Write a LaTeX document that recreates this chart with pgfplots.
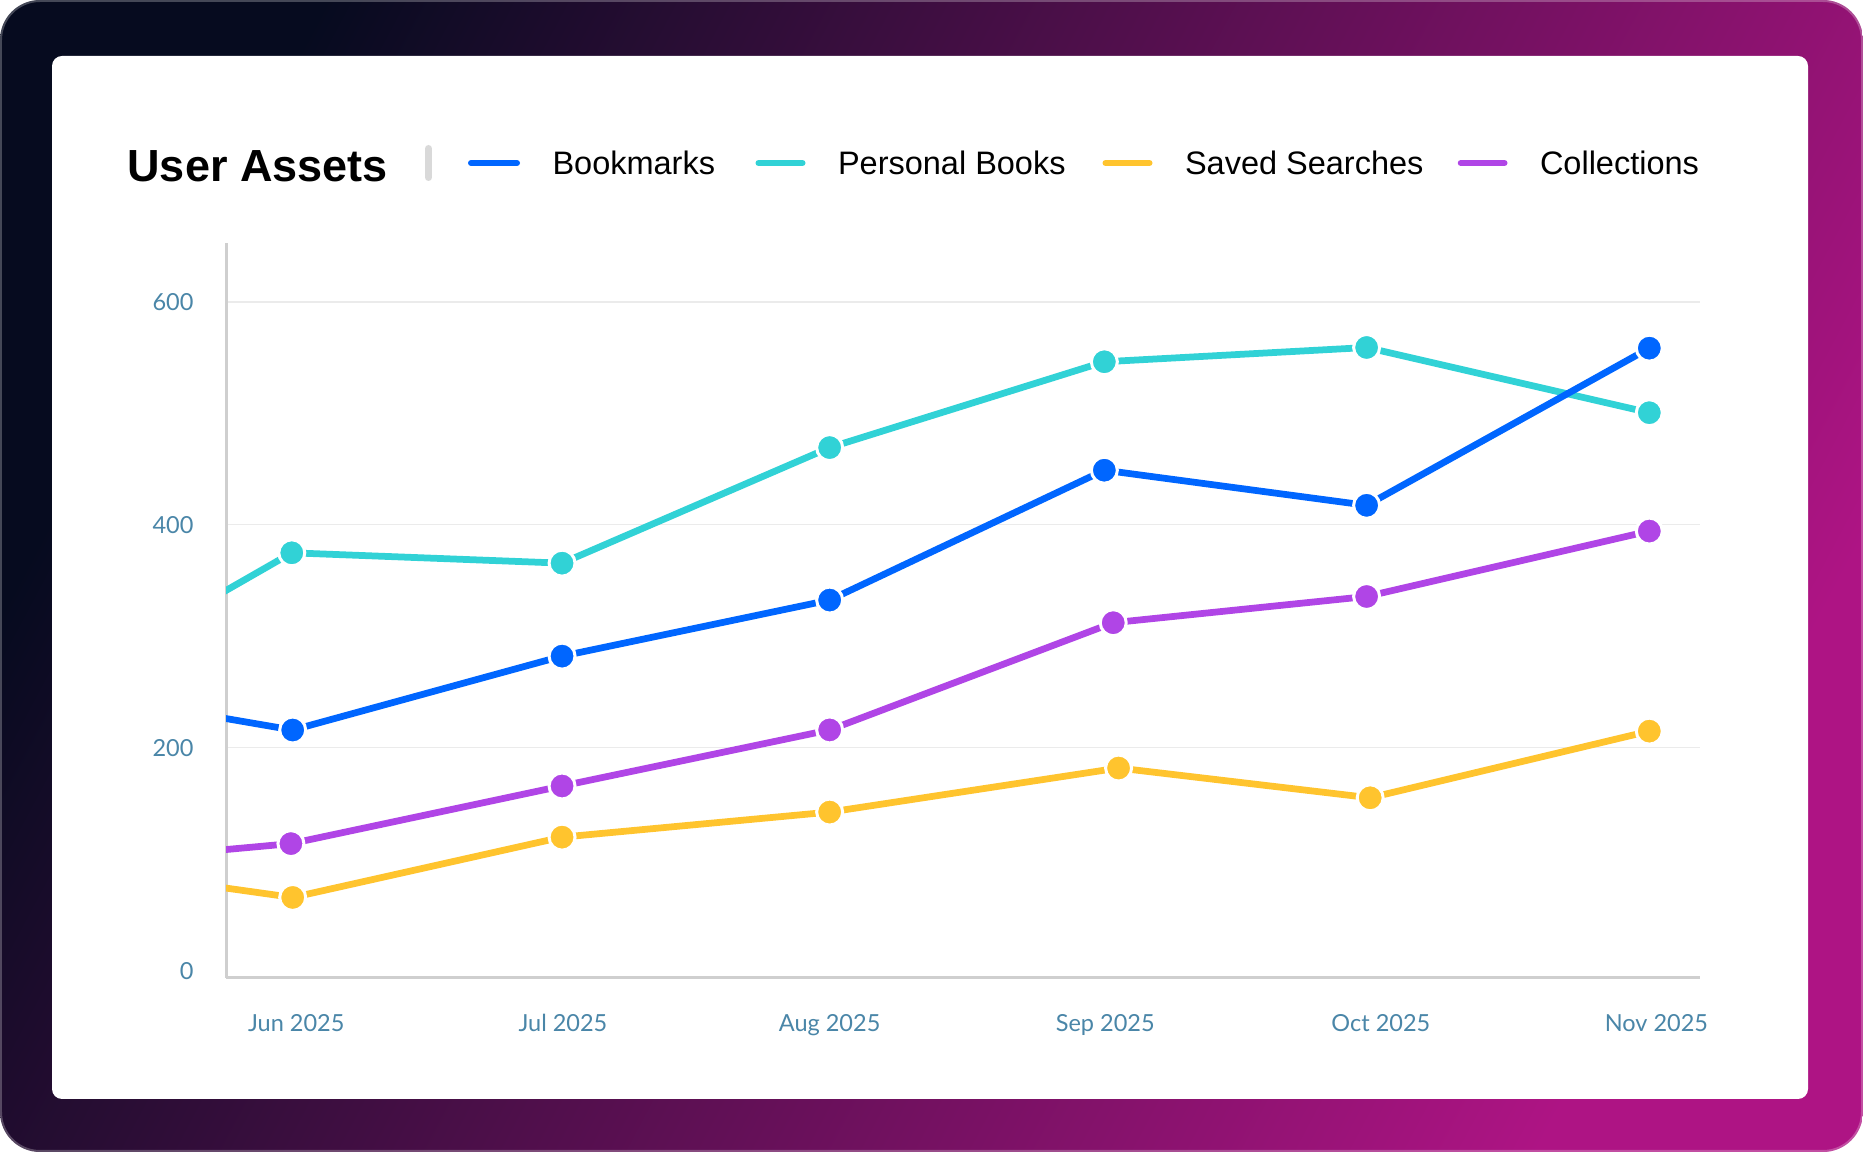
\documentclass[border=0pt]{standalone}
\usepackage{pgfplots}
\usepackage{pgfplotstable}
\pgfplotsset{compat=1.18}
\usepackage{fontspec}
\setmainfont{Liberation Sans}
\newfontfamily\tickfont{Lato}

\definecolor{bgA}{HTML}{060B1F}
\definecolor{bgB}{HTML}{AE1484}
\definecolor{cBook}{HTML}{0066FF}
\definecolor{cPers}{HTML}{31D2D6}
\definecolor{cSave}{HTML}{FFC42E}
\definecolor{cColl}{HTML}{B045E6}
\definecolor{tickc}{HTML}{4A86A8}
\definecolor{gridc}{HTML}{EBEBEB}
\definecolor{axc}{HTML}{CFCFCF}
\definecolor{sepc}{HTML}{D9D9D9}

% x = days since 1 Jun 2025; first row lies before the axis and is clipped
\pgfplotstableread{
day value
-31 257.8
-0.4 215.8
29.9 282.1
60.0 332.4
90.9 448.9
120.4 417.4
152.2 558.4
}\bookmarks
\pgfplotstableread{
day value
-31 235.4
-0.5 374.8
29.9 365.5
60.0 469.2
90.9 546.2
120.4 559.0
152.2 500.5
}\personal
\pgfplotstableread{
day value
-31 99.9
-0.4 65.6
29.9 119.7
60.0 142.2
92.5 181.7
120.8 155.0
152.2 214.8
}\saved
\pgfplotstableread{
day value
-31 91.7
-0.6 113.9
29.9 165.6
60.0 215.9
91.9 312.1
120.4 335.6
152.2 394.3
}\collections

\pgfplotsset{
  series/.style={draw=#1, line width=2.7pt, line join=round, mark=*, mark size=5.2pt,
    mark options={fill=#1, draw=white, line width=1.2pt}, mark indices={1,2,3,4,5,6}},
}

\begin{document}
\begin{tikzpicture}[x=1pt,y=1pt]
\useasboundingbox (0,0) rectangle (745.2,460.8);
\shade[rounded corners=16pt, left color=bgA, right color=bgB, shading angle=62] (0,0) rectangle (745.2,460.8);
\draw[rounded corners=15.6pt, white, draw opacity=0.25, line width=0.8pt] (0.4,0.4) rectangle (744.8,460.4);
\fill[white, rounded corners=4pt] (20.8,21.2) rectangle (723.2,438.4);

% title and legend
\node[anchor=base west, inner sep=0pt, font=\bfseries\fontsize{18}{20}\selectfont] at (50.8,388) {User Assets};
\draw[sepc, line width=2.8pt, line cap=round] (171.4,389.8) -- (171.4,401.4);
\begin{scope}[line width=2.4pt, line cap=round]
  \draw[cBook] (188.4,395.6) -- (206.8,395.6);
  \draw[cPers] (303.4,395.6) -- (321.0,395.6);
  \draw[cSave] (442.2,395.6) -- (459.8,395.6);
  \draw[cColl] (584.3,395.6) -- (601.8,395.6);
\end{scope}
\begin{scope}[every node/.style={anchor=base west, inner sep=0pt, font=\fontsize{13}{15}\selectfont}]
  \node at (220.8,390.8) {Bookmarks};
  \node at (335.0,390.8) {Personal Books};
  \node at (473.8,390.8) {Saved Searches};
  \node at (615.8,390.8) {Collections};
\end{scope}

\begin{axis}[
  at={(90.4pt,69.72pt)}, anchor=south west,
  scale only axis, width=589.6pt, height=293.9pt,
  xmin=-7.9, xmax=157.9, ymin=-6.4, ymax=652.8,
  axis lines*=left,
  axis line style={draw=axc, line width=1.2pt},
  major tick length=0pt,
  /pgf/number format/assume math mode=true,
  scaled ticks=false,
  xtick={0,30,60,91,122,153},
  xticklabels={Jun 2025,Jul 2025,Aug 2025,Sep 2025,Oct 2025,Nov 2025},
  ytick={200,400,600},
  extra y ticks={0},
  extra y tick style={grid=none},
  ymajorgrids,
  grid style={draw=gridc, line width=0.6pt},
  tick label style={font=\tickfont\fontsize{9.4}{11}\selectfont, text=tickc},
  yticklabel style={anchor=base east, inner sep=0pt, xshift=-12.8pt, yshift=-3.4pt},
  xticklabel style={anchor=base, inner sep=0pt, yshift=-21.7pt},
]
\addplot[series=cPers] table[x=day, y=value] {\personal};
\addplot[series=cBook] table[x=day, y=value] {\bookmarks};
\addplot[series=cSave] table[x=day, y=value] {\saved};
\addplot[series=cColl] table[x=day, y=value] {\collections};
\end{axis}
\end{tikzpicture}
\end{document}
